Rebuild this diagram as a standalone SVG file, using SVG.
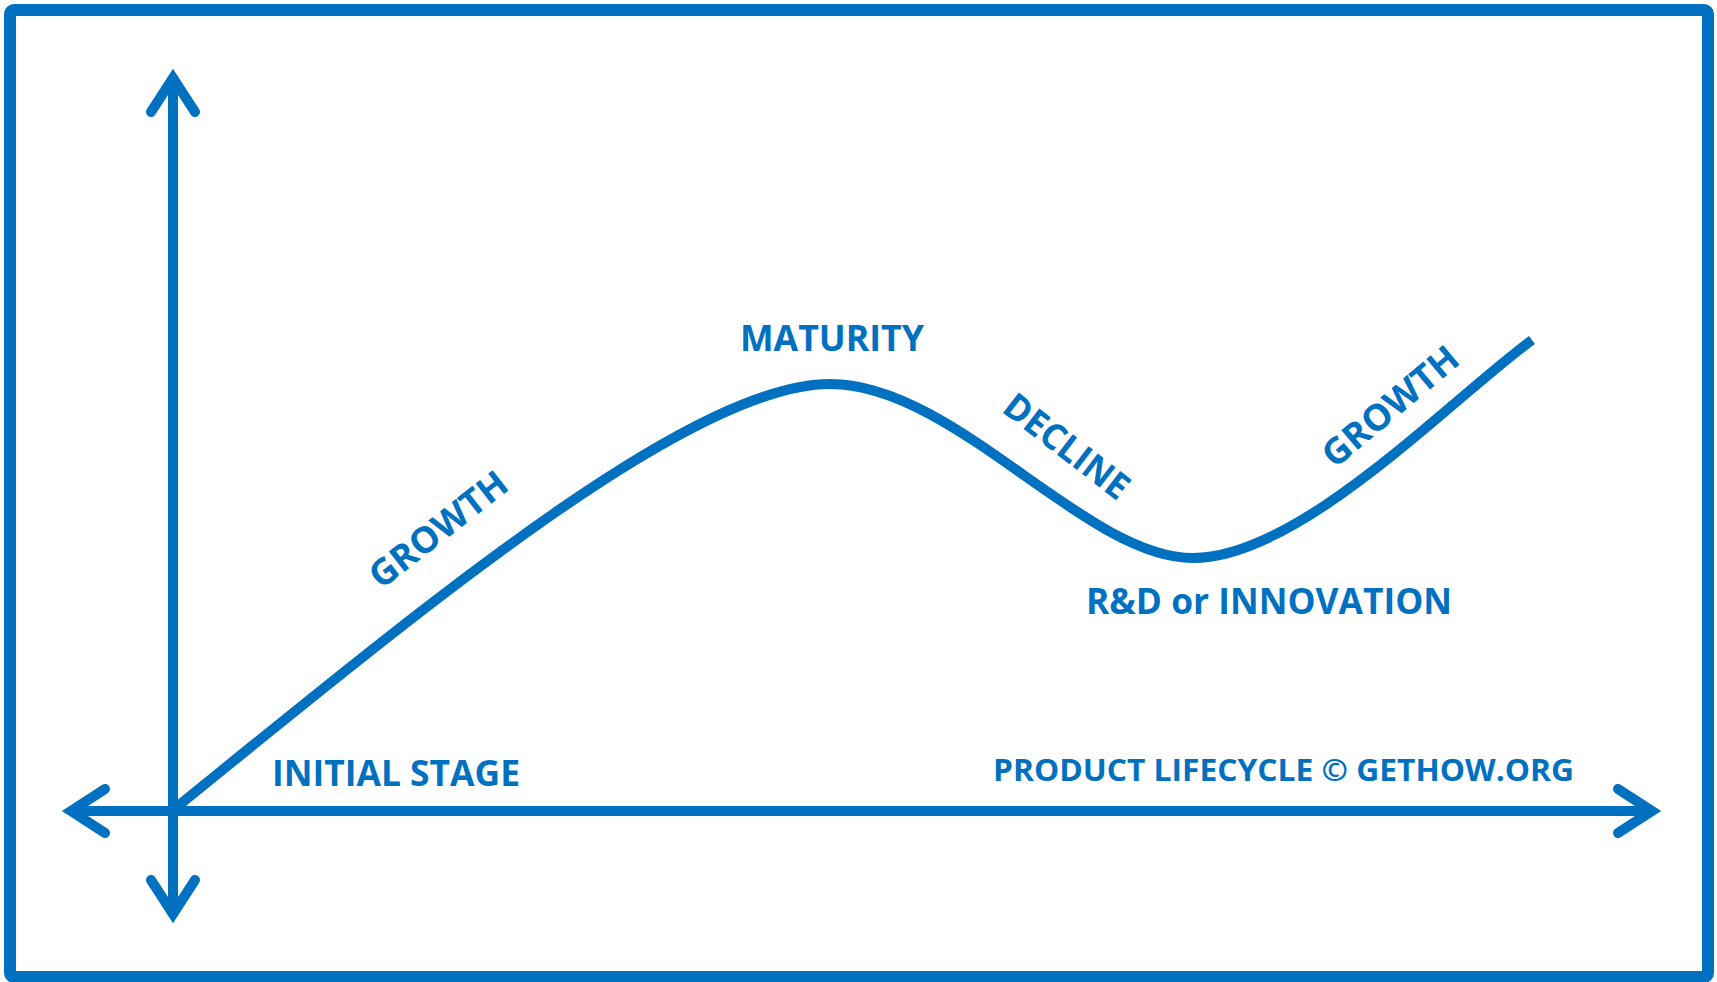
<svg xmlns="http://www.w3.org/2000/svg" width="1717" height="982" viewBox="0 0 1717 982">
<style>
.ln{fill:none;stroke:#0070C0;stroke-width:10}
.ah{fill:none;stroke:#0070C0;stroke-width:10;stroke-linecap:round;stroke-linejoin:miter;stroke-miterlimit:10}
.lb{font-family:"Open Sans","Liberation Sans",sans-serif;font-weight:700;fill:#0070C0;font-size:36px}
.sm{font-size:31px}
</style>
<rect x="0" y="0" width="1717" height="982" fill="#ffffff"/>
<rect id="frame" x="10" y="10" width="1698" height="967" rx="4" fill="none" stroke="#0070C0" stroke-width="12"/>
<g id="connectors">
<g id="y-axis">
<line class="ln" x1="173" y1="80" x2="173" y2="912"/>
<polyline class="ah" points="151,112 173,78 195,112"/>
<polyline class="ah" points="151,880 173,914 195,880"/>
</g>
<g id="x-axis">
<line class="ln" x1="73" y1="811" x2="1651" y2="811"/>
<polyline class="ah" points="105,789 71,811 105,833"/>
<polyline class="ah" points="1618,789 1652,811 1618,833"/>
</g>
<path id="curve" class="ln" d="M173,810 C420,610 690,384 830,384 C955,384 1085,558 1193,558 C1300,558 1450,400 1532,340"/>
</g>
<g id="maturity"><text class="lb" x="740" y="351" textLength="184" lengthAdjust="spacingAndGlyphs">MATURITY</text></g>
<g id="initial-stage"><text class="lb" x="272" y="786" textLength="248" lengthAdjust="spacingAndGlyphs">INITIAL STAGE</text></g>
<g id="rnd"><text class="lb" x="1086" y="614" textLength="366" lengthAdjust="spacingAndGlyphs">R&amp;D or INNOVATION</text></g>
<g id="credit"><text class="lb sm" x="993" y="781" textLength="581" lengthAdjust="spacingAndGlyphs">PRODUCT LIFECYCLE © GETHOW.ORG</text></g>
<g id="growth1"><text class="lb" transform="translate(438,529) rotate(-38)" x="0" y="13" text-anchor="middle" textLength="165" lengthAdjust="spacingAndGlyphs">GROWTH</text></g>
<g id="decline"><text class="lb" transform="translate(1067,446) rotate(37.7)" x="0" y="13" text-anchor="middle" textLength="148" lengthAdjust="spacingAndGlyphs">DECLINE</text></g>
<g id="growth2"><text class="lb" transform="translate(1390,406) rotate(-40)" x="0" y="13" text-anchor="middle" textLength="166" lengthAdjust="spacingAndGlyphs">GROWTH</text></g>
</svg>
